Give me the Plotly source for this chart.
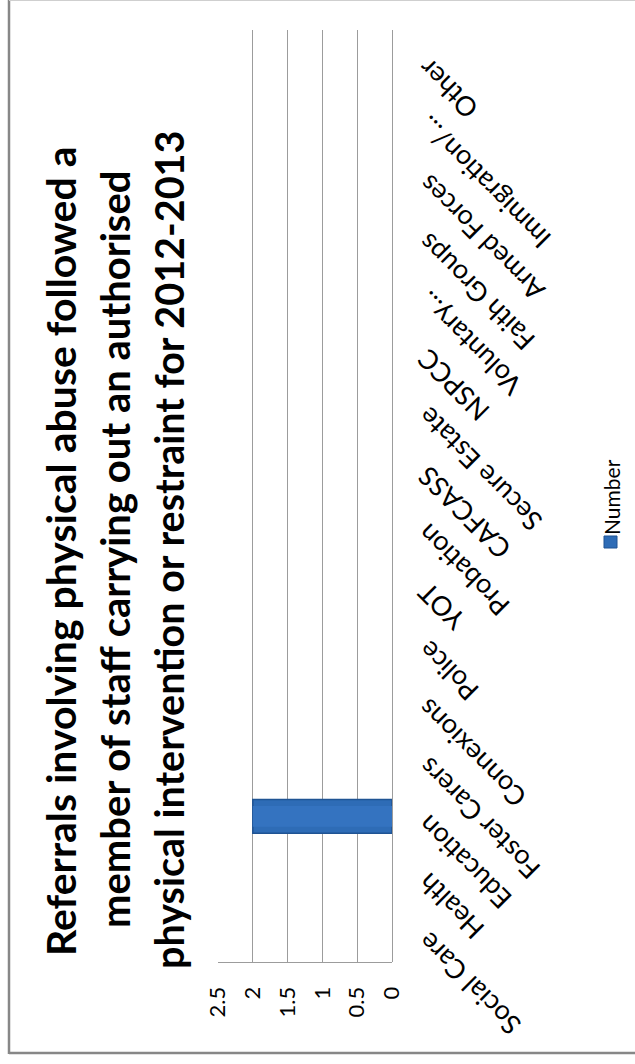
import plotly.graph_objects as go

# Referral sources and counts
categories = [
    "Social Care", "Health", "Education", "Foster Carers", "Connexions",
    "Police", "YOT", "Probation", "CAFCASS", "Secure Estate", "NSPCC",
    "Voluntary...", "Faith Groups", "Armed Forces", "Immigration/...", "Other",
]
numbers = [0, 0, 2, 0, 0, 0, 0, 0, 0, 0, 0, 0, 0, 0, 0, 0]
value_ticks = [0, 0.5, 1, 1.5, 2, 2.5]
series_name = "Number"
title_lines = [
    "Referrals involving physical abuse followed a",
    "member of staff carrying out an authorised",
    "physical intervention or restraint for 2012-2013",
]

FONT = "Lato, Carlito, Calibri, sans-serif"
W, H = 635, 1064
L, R, T, B = 218, 243, 30, 102
PW, PH = W - L - R, H - T - B


def px(x):
    return (x - L) / PW


def py(y):
    return (H - B - y) / PH


# outline only on bars that have a length
outline = [1.5 if v > 0 else 0 for v in numbers]

fig = go.Figure()
fig.add_trace(go.Bar(
    y=categories, x=numbers, orientation="h", name=series_name,
    width=0.58,
    marker=dict(color="#2E6CB6", line=dict(color="#1F5393", width=outline)),
    showlegend=False,
))
# lighter core to give the bar a rounded, bevelled look
fig.add_trace(go.Bar(
    y=categories, x=numbers, orientation="h", name=series_name,
    width=0.36,
    marker=dict(color="#3473C0", line=dict(width=0)),
    showlegend=False, hoverinfo="skip",
))

fig.update_xaxes(
    range=[2.5, 0], tickvals=value_ticks,
    ticktext=[f"{v:g}" for v in value_ticks],
    tickangle=-90, ticks="", ticklabelstandoff=15,
    showgrid=True, gridcolor="#9C9C9C", gridwidth=1,
    zeroline=True, zerolinecolor="#9C9C9C", zerolinewidth=1,
    showline=True, linecolor="#9C9C9C", linewidth=1,
    tickfont=dict(family=FONT, size=22, color="#000"),
)
fig.update_yaxes(
    showticklabels=False, showgrid=False, zeroline=False, showline=False,
    ticks="", range=[-0.5, len(categories) - 0.5],
)

annotations = []
# rotated title, one line per annotation
title_pos = [(60, 551, 41), (115, 550, 40), (168, 550, 39.5)]
for line, (cx, cy, size) in zip(title_lines, title_pos):
    annotations.append(dict(
        text=line, xref="paper", yref="paper",
        x=px(cx), y=py(cy),
        xanchor="center", yanchor="middle", textangle=-90, showarrow=False,
        font=dict(family=FONT, size=size, color="#000", weight="bold"),
    ))

# slanted category labels
for c in categories:
    annotations.append(dict(
        text=c, xref="paper", yref="y", x=px(408), y=c,
        xanchor="left", yanchor="top", textangle=-135, showarrow=False,
        yshift=10,
        font=dict(family=FONT, size=27, color="#000"),
    ))

# legend entry
annotations.append(dict(
    text=series_name, xref="paper", yref="paper", x=px(611), y=py(497),
    xanchor="center", yanchor="middle", textangle=-90, showarrow=False,
    font=dict(family=FONT, size=21, color="#000"),
))

shapes = [
    # legend swatch
    dict(type="rect", xref="paper", yref="paper",
         x0=px(604), x1=px(617), y0=py(548), y1=py(536),
         fillcolor="#2E6CB6", line=dict(color="#1F5393", width=1)),
    # chart border
    dict(type="line", xref="paper", yref="paper", x0=px(9), x1=px(9), y0=py(1054), y1=py(0),
         line=dict(color="#878787", width=2.5)),
    dict(type="line", xref="paper", yref="paper", x0=px(9), x1=px(640), y0=py(1053), y1=py(1053),
         line=dict(color="#878787", width=2.5)),
    dict(type="line", xref="paper", yref="paper", x0=px(9), x1=px(640), y0=py(0.5), y1=py(0.5),
         line=dict(color="#CFCFCF", width=1)),
]

fig.update_layout(
    width=W, height=H,
    margin=dict(l=L, r=R, t=T, b=B),
    paper_bgcolor="white", plot_bgcolor="white",
    annotations=annotations, shapes=shapes,
    showlegend=False, barmode="overlay",
)

fig.write_html("out.html")
